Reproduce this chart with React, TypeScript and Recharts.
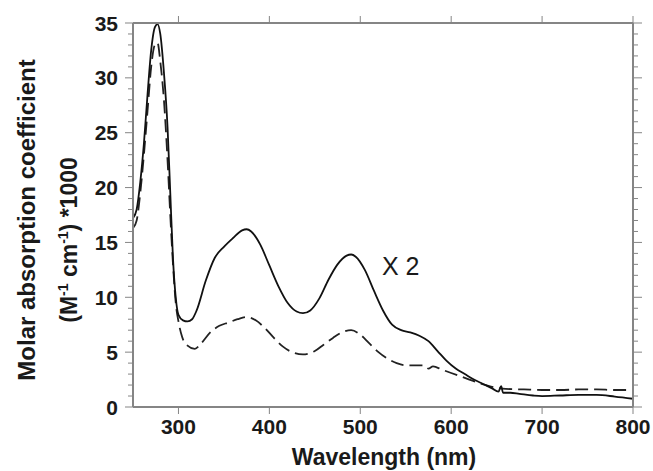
import React from "react";
import { LineChart, Line, XAxis, YAxis } from "recharts";

const solidWavelengths = [250, 254, 258, 262, 266, 270, 274, 277, 280, 284, 288, 291, 294, 297, 300, 305, 310, 315, 320, 330, 340, 350, 360, 370, 375, 380, 390, 400, 410, 420, 430, 437, 445, 455, 465, 475, 485, 490, 495, 505, 515, 525, 535, 545, 555, 565, 575, 585, 595, 605, 615, 625, 635, 645, 652, 655, 657, 665, 675, 690, 700, 720, 740, 760, 780, 800];
const solidValues = [17.2, 18.0, 20.5, 24.0, 28.5, 32.5, 34.6, 34.9, 34.0, 30.5, 25.5, 19.5, 13.5, 10.0, 8.4, 7.9, 7.8, 8.0, 8.8, 11.5, 13.6, 14.6, 15.4, 16.1, 16.2, 16.0, 14.8, 12.9, 11.0, 9.5, 8.7, 8.55, 8.8, 9.9, 11.6, 13.0, 13.8, 13.9, 13.7, 12.5, 10.6, 8.8, 7.5, 7.0, 6.8, 6.5, 6.0, 5.1, 4.2, 3.5, 3.0, 2.5, 2.1, 1.7, 1.4, 1.9, 1.3, 1.3, 1.2, 1.05, 1.0, 1.05, 1.1, 1.1, 0.95, 0.75];

const dashedWavelengths = [250, 254, 258, 262, 266, 270, 274, 277, 280, 284, 288, 291, 294, 297, 300, 304, 310, 318, 325, 335, 345, 355, 365, 375, 385, 395, 405, 415, 425, 437, 450, 460, 470, 480, 490, 500, 510, 520, 530, 540, 550, 560, 570, 575, 580, 590, 600, 610, 620, 630, 640, 650, 660, 680, 700, 720, 740, 760, 780, 800];
const dashedValues = [16.3, 17.0, 19.5, 23.0, 27.0, 31.0, 33.0, 33.2, 31.5, 28.0, 22.5, 17.5, 13.0, 9.5, 7.8, 6.4, 5.6, 5.3, 5.8, 6.8, 7.4, 7.7, 8.0, 8.2, 7.9, 7.2, 6.3, 5.5, 5.0, 4.8, 5.1, 5.7, 6.3, 6.8, 7.0, 6.6, 5.8, 5.0, 4.4, 4.0, 3.8, 3.8, 3.8, 3.5, 3.7, 3.4, 3.1, 2.8, 2.5, 2.2, 1.95, 1.75, 1.65, 1.6, 1.55, 1.55, 1.6, 1.6, 1.55, 1.55];

const xTicks = [300, 400, 500, 600, 700, 800];
const yTicks = Array.from({ length: 36 }, (_, i) => i);

const solidData = solidWavelengths.map((w, i) => ({ w, v: solidValues[i] }));
const dashedData = dashedWavelengths.map((w, i) => ({ w, v: dashedValues[i] }));

const AXIS = "#858585";
const TEXT = "#1a1a1a";
const FONT = "'Liberation Sans', Arial, Helvetica, sans-serif";

const LeftTick = (props: any) => {
  const { x, y, payload } = props;
  const v = payload.value;
  const major = v % 5 === 0;
  return (
    <g>
      <line x1={x} x2={x - (major ? 8 : 5)} y1={y} y2={y} stroke={AXIS} strokeWidth={1} />
      {major && (
        <text x={x - 15} y={y + 7.5} textAnchor="end" fontFamily={FONT} fontWeight="bold" fontSize={21} fill={TEXT}>
          {v}
        </text>
      )}
    </g>
  );
};

const RightTick = (props: any) => {
  const { x, y, payload } = props;
  const major = payload.value % 5 === 0;
  return <line x1={x} x2={x + (major ? 9 : 5)} y1={y} y2={y} stroke={AXIS} strokeWidth={1} />;
};

const BottomTick = (props: any) => {
  const { x, y, payload } = props;
  return (
    <g>
      <line x1={x} x2={x} y1={y} y2={y + 7} stroke={AXIS} strokeWidth={1} />
      <text x={x} y={y + 27} textAnchor="middle" fontFamily={FONT} fontWeight="bold" fontSize={21} fill={TEXT}>
        {payload.value}
      </text>
    </g>
  );
};

const TopTick = (props: any) => {
  const { x, y } = props;
  return <line x1={x} x2={x} y1={y} y2={y - 7} stroke={AXIS} strokeWidth={1} />;
};

export default function App() {
  return (
    <div style={{ position: "absolute", left: 0, top: 0, width: 653, height: 471, background: "#fff" }}>
      <LineChart width={653} height={471} margin={{ top: 0, right: 0, bottom: 0, left: 0 }}>
        <XAxis
          xAxisId="bottom"
          dataKey="w"
          type="number"
          domain={[250, 800]}
          ticks={xTicks}
          interval={0}
          height={64}
          tickSize={0}
          tickMargin={0}
          tickLine={false}
          tick={<BottomTick />}
          axisLine={{ stroke: AXIS, strokeWidth: 2 }}
          allowDataOverflow
        />
        <XAxis
          xAxisId="top"
          orientation="top"
          dataKey="w"
          type="number"
          domain={[250, 800]}
          ticks={xTicks}
          interval={0}
          height={23}
          tickSize={0}
          tickMargin={0}
          tickLine={false}
          tick={<TopTick />}
          axisLine={{ stroke: AXIS, strokeWidth: 2 }}
          allowDataOverflow
        />
        <YAxis
          yAxisId="left"
          type="number"
          domain={[0, 35]}
          ticks={yTicks}
          interval={0}
          width={133}
          tickSize={0}
          tickMargin={0}
          tickLine={false}
          tick={<LeftTick />}
          axisLine={{ stroke: AXIS, strokeWidth: 2 }}
          allowDataOverflow
        />
        <YAxis
          yAxisId="right"
          orientation="right"
          type="number"
          domain={[0, 35]}
          ticks={yTicks}
          interval={0}
          width={20}
          tickSize={0}
          tickMargin={0}
          tickLine={false}
          tick={<RightTick />}
          axisLine={{ stroke: AXIS, strokeWidth: 2 }}
          allowDataOverflow
        />
        <Line
          xAxisId="bottom"
          yAxisId="left"
          data={dashedData}
          dataKey="v"
          type="monotone"
          dot={false}
          stroke="#222"
          strokeWidth={1.8}
          strokeDasharray="13 6"
          isAnimationActive={false}
        />
        <Line
          xAxisId="bottom"
          yAxisId="left"
          data={solidData}
          dataKey="v"
          type="monotone"
          dot={false}
          stroke="#111"
          strokeWidth={1.8}
          isAnimationActive={false}
        />
      </LineChart>
      <svg width={653} height={471} style={{ position: "absolute", left: 0, top: 0, pointerEvents: "none" }}>
        <text transform="translate(35,220) rotate(-90)" textAnchor="middle" fontFamily={FONT} fontWeight="bold" fontSize={24} fill={TEXT}>
          Molar absorption coefficient
        </text>
        <text transform="translate(77,240) rotate(-90)" textAnchor="middle" fontFamily={FONT} fontWeight="bold" fontSize={23} fill={TEXT}>
          (M<tspan fontSize={14} dy={-9}>-1</tspan>
          <tspan dy={9}> cm</tspan>
          <tspan fontSize={14} dy={-9}>-1</tspan>
          <tspan dy={9}>) *1000</tspan>
        </text>
        <text x={384} y={465} textAnchor="middle" fontFamily={FONT} fontWeight="bold" fontSize={23} fill={TEXT}>
          Wavelength (nm)
        </text>
        <text x={382} y={275} fontFamily={FONT} fontSize={25} fill={TEXT}>
          X 2
        </text>
      </svg>
    </div>
  );
}
